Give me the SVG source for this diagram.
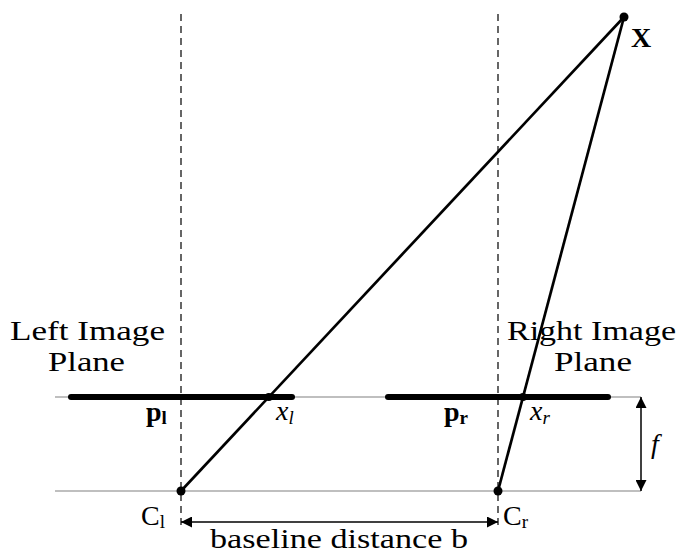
<svg xmlns="http://www.w3.org/2000/svg" width="678" height="556" viewBox="0 0 678 556">
<style>
.t{font-family:"Liberation Serif","DejaVu Serif",serif;font-size:28px;fill:#000}
.gray{stroke:#aaa;stroke-width:1.5;fill:none}
.plane{stroke:#000;stroke-width:6;stroke-linecap:round}
.ray{stroke:#000;stroke-width:2.7;fill:none}
.dash{stroke:#000;stroke-width:1.2;stroke-dasharray:7,5;fill:none}
.dim{stroke:#000;stroke-width:1.5;fill:none}
</style>
<defs>
<marker id="ah" viewBox="0 0 10 10" refX="10" refY="5" markerWidth="16" markerHeight="11" markerUnits="userSpaceOnUse" orient="auto-start-reverse">
<path d="M0,0 L10,5 L0,10 z" fill="#000"/>
</marker>
</defs>
<g id="guides">
<line class="gray" x1="55" y1="397" x2="641" y2="397"/>
<line class="gray" x1="55" y1="491" x2="641" y2="491"/>
<line class="dash" x1="181" y1="14" x2="181" y2="527"/>
<line class="dash" x1="498" y1="14" x2="498" y2="527"/>
</g>
<g id="left-plane">
<line class="plane" x1="71" y1="397" x2="292" y2="397"/>
<text class="t" x="10" y="340" textLength="155" lengthAdjust="spacingAndGlyphs">Left Image</text>
<text class="t" x="48" y="371" textLength="77" lengthAdjust="spacingAndGlyphs">Plane</text>
<text class="t" x="146" y="421" font-weight="bold">p<tspan font-size="19" dy="3">l</tspan></text>
<text class="t" x="276" y="420" font-style="italic">x<tspan font-size="19" dy="4">l</tspan></text>
</g>
<g id="right-plane">
<line class="plane" x1="388" y1="397" x2="608" y2="397"/>
<text class="t" x="507" y="340" textLength="169" lengthAdjust="spacingAndGlyphs">Right Image</text>
<text class="t" x="554" y="371" textLength="78" lengthAdjust="spacingAndGlyphs">Plane</text>
<text class="t" x="444" y="421" font-weight="bold">p<tspan font-size="19" dy="3">r</tspan></text>
<text class="t" x="530" y="420" font-style="italic">x<tspan font-size="19" dy="4">r</tspan></text>
</g>
<g id="connectors">
<line class="ray" x1="181" y1="491" x2="624" y2="17"/>
<line class="ray" x1="498" y1="491" x2="624" y2="17"/>
<line class="dim" x1="181" y1="522" x2="498" y2="522" marker-start="url(#ah)" marker-end="url(#ah)"/>
<line class="dim" x1="641" y1="397" x2="641" y2="491" marker-start="url(#ah)" marker-end="url(#ah)"/>
</g>
<g id="X">
<circle cx="624" cy="17" r="4.5"/>
<text class="t" x="631" y="47" font-weight="bold" font-size="27">X</text>
</g>
<g id="xl"><circle cx="268.8" cy="397" r="4"/></g>
<g id="xr"><circle cx="523" cy="397" r="4"/></g>
<g id="Cl">
<circle cx="181" cy="491" r="4.5"/>
<text class="t" x="141" y="525">C<tspan font-size="19" dy="3">l</tspan></text>
</g>
<g id="Cr">
<circle cx="498" cy="491" r="4.5"/>
<text class="t" x="503" y="525">C<tspan font-size="19" dy="3">r</tspan></text>
</g>
<g id="labels">
<text class="t" x="210" y="548" font-size="26" textLength="258" lengthAdjust="spacingAndGlyphs">baseline distance b</text>
<text class="t" x="651" y="453" font-style="italic" font-size="30">f</text>
</g>
</svg>
